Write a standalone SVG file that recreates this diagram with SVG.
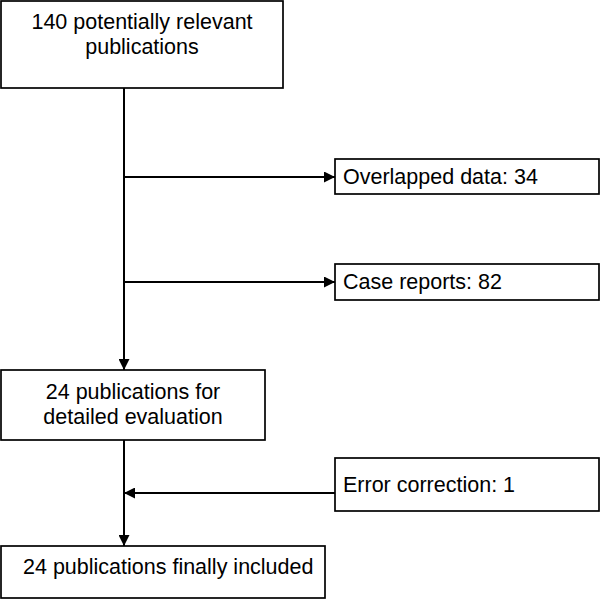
<svg xmlns="http://www.w3.org/2000/svg" width="600" height="600" viewBox="0 0 600 600">
<defs>
<style>
rect{fill:#fff;stroke:#000;stroke-width:1.7}
text{font-family:"Liberation Sans",Arial,sans-serif;font-size:21.5px;fill:#000}
.c{text-anchor:middle}
.ln{stroke:#000;stroke-width:2;fill:none}
</style>
<marker id="ah" viewBox="0 0 10 10" refX="10" refY="5" markerWidth="11" markerHeight="11" markerUnits="userSpaceOnUse" orient="auto">
<path d="M0,0 L10,5 L0,10 z" fill="#000"/>
</marker>
</defs>
<g id="connectors">
<line class="ln" x1="124" y1="88" x2="124" y2="370" marker-end="url(#ah)"/>
<line class="ln" x1="124" y1="177" x2="335" y2="177" marker-end="url(#ah)"/>
<line class="ln" x1="124" y1="282" x2="335" y2="282" marker-end="url(#ah)"/>
<line class="ln" x1="124" y1="440" x2="124" y2="546" marker-end="url(#ah)"/>
<line class="ln" x1="335" y1="493" x2="124" y2="493" marker-end="url(#ah)"/>
</g>
<g id="n1"><rect x="1" y="1" width="282" height="87"/><text class="c" x="142" y="29">140 potentially relevant</text><text class="c" x="142" y="54">publications</text></g>
<g id="n2"><rect x="335" y="159" width="264" height="35"/><text x="343" y="184">Overlapped data: 34</text></g>
<g id="n3"><rect x="335" y="264" width="264" height="36"/><text x="343" y="289">Case reports: 82</text></g>
<g id="n4"><rect x="1" y="370" width="264" height="70"/><text class="c" x="133" y="399">24 publications for</text><text class="c" x="133" y="424">detailed evaluation</text></g>
<g id="n5"><rect x="335" y="458" width="264" height="53"/><text x="343" y="492">Error correction: 1</text></g>
<g id="n6"><rect x="1" y="546" width="324" height="52"/><text x="23" y="574">24 publications finally included</text></g>
</svg>
